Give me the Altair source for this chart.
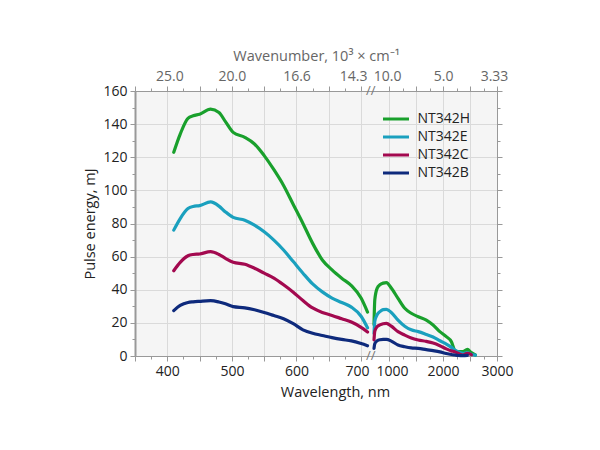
import altair as alt
import pandas as pd

series = ["NT342H", "NT342E", "NT342C", "NT342B"]
colors = ["#19a02c", "#1aa0be", "#a3094f", "#0e2a7c"]

# signal range (left segment)
wl_left = [410, 420, 432, 440, 450, 467, 480, 490, 502, 520, 535, 550, 565, 580,
           595, 610, 625, 640, 655, 670, 685, 700, 710]
h_left = [123, 134, 143.5, 145, 146, 149, 147, 141.5, 135, 132, 128, 121, 112.5, 103,
          91.5, 80, 68, 58, 52, 47, 42.5, 35, 26.5]
e_left = [76, 83, 89, 90.3, 90.8, 93, 90.5, 87, 83.7, 82, 79, 75, 70, 64,
          57, 50, 43.5, 38.7, 35, 32.3, 29.5, 24, 17]
c_left = [51.5, 56.5, 60.5, 61.3, 61.6, 63, 61.3, 59, 56.6, 55.4, 53, 50, 47, 43,
          38.5, 33.5, 29, 26.3, 24.5, 22.5, 20.5, 17.3, 14.5]
b_left = [27.4, 30.5, 32.3, 32.7, 33, 33.4, 32.6, 31.5, 29.8, 29.1, 27.9, 26.3, 24.4, 22.5,
          19.5, 15.8, 13.7, 12.4, 11.1, 10, 9.1, 7.5, 6.2]

# idler range (right segment)
wl_right = [720, 735, 780, 830, 890, 950, 1040, 1165, 1290, 1410, 1540, 1690, 1815,
            1940, 2060, 2155, 2215, 2280, 2370, 2450, 2525, 2600]
h_right = [19, 34, 41, 43, 44, 44.3, 41, 34.8, 28.8, 25.8, 23.7, 21.7, 18.7,
           14.7, 11.7, 8.6, 3.6, 2.6, 2.6, 4, 2, 0.6]
e_right = [13.7, 21, 25, 26.8, 28, 28.2, 26.3, 21.7, 18, 15.8, 14.7, 13, 11.5,
           9.2, 7.2, 5.2, 3.6, 2.6, 1.6, 2, 1, 0.5]
c_right = [9.7, 15, 17.8, 18.8, 19.5, 19.7, 18, 14.7, 12.6, 10.9, 9.7, 8.8, 7.8,
           6.2, 4.3, 3.1, 2.6, 1.6, 0.6, 1.6, 0.8]
b_right = [4.6, 7.5, 9.2, 9.8, 10, 10, 9, 6.6, 5.6, 4.9, 4.6, 3.8, 3.2,
           2.5, 1.5, 0.9, 0.6, 0.3, 0.2, 0.4]

# axis ticks / labels
x_ticks = list(range(350, 701, 25)) + list(range(1000, 3001, 250))
bottom_label_nm = [400, 500, 600, 700, 1000, 2000, 3000]
top_labels = ["25.0", "20.0", "16.6", "14.3", "10.0", "5.0", "3.33"]
y_ticks = list(range(0, 161, 10))
break_nm = [715, 715]
break_pe = [0, 160]

rows = []
for name, lv, rv in zip(series, [h_left, e_left, c_left, b_left],
                        [h_right, e_right, c_right, b_right]):
    for w, v in zip(wl_left, lv):
        rows.append({"series": name, "seg": "signal", "nm": w, "pe": v})
    for w, v in zip(wl_right, rv):
        rows.append({"series": name, "seg": "idler", "nm": w, "pe": v})
df = pd.DataFrame(rows)
brk = pd.DataFrame({"nm": break_nm, "pe": break_pe})

FONT = "Open Sans"
xscale = alt.Scale(domain=[350, 720, 3000], range=[0, 239, 362], nice=False, zero=False)
yscale = alt.Scale(domain=[0, 160], nice=False)

major_x = "((datum.value <= 700 && datum.value % 50 == 0) || datum.value % 500 == 0)"
lab_arr = "[" + ",".join(str(v) for v in bottom_label_nm) + "]"
top_arr = "[" + ",".join("'" + s + "'" for s in top_labels) + "]"

common = dict(labelFont=FONT, titleFont=FONT, titleFontWeight="normal",
              domainColor="#999", tickColor="#999", gridColor="#dadada", gridWidth=1)

bottom_axis = alt.Axis(
    orient="bottom", values=x_ticks, title="Wavelength, nm",
    labelExpr=f"indexof({lab_arr}, datum.value) >= 0 ? '' + datum.value : ''",
    labelOverlap=False, labelFlush=False,
    tickSize={"condition": {"test": major_x, "value": 5}, "value": 3},
    grid=True,
    gridOpacity={"condition": {"test": major_x, "value": 1}, "value": 0},
    labelOffset={"condition": [{"test": "datum.value == 700", "value": -4},
                               {"test": "datum.value == 1000", "value": 3}], "value": 0},
    labelColor="#222", titleColor="#222", labelFontSize=14, titleFontSize=14.5,
    labelPadding=3, titlePadding=7, titleX=200, titleAlign="center", **common,
)
top_axis = alt.Axis(
    orient="top", values=x_ticks, title="Wavenumber, 10³ × cm⁻¹",
    labelExpr=f"indexof({lab_arr}, datum.value) >= 0 ? {top_arr}[indexof({lab_arr}, datum.value)] : ''",
    labelOverlap=False, labelFlush=False, grid=False,
    tickSize={"condition": {"test": major_x, "value": 5}, "value": 3},
    labelOffset={"condition": [{"test": "datum.value == 700", "value": -8},
                               {"test": "datum.value == 400", "value": 2},
                               {"test": "datum.value == 1000", "value": -2},
                               {"test": "datum.value == 3000", "value": -3}], "value": 0},
    labelColor="#666", titleColor="#666", labelFontSize=14, titleFontSize=14.5,
    labelPadding=3, titlePadding=6, **common,
)
left_axis = alt.Axis(
    orient="left", values=y_ticks, title="Pulse energy, mJ",
    labelExpr="datum.value % 20 == 0 ? '' + datum.value : ''",
    tickSize={"condition": {"test": "datum.value % 20 == 0", "value": 5}, "value": 3},
    grid=True,
    gridOpacity={"condition": {"test": "datum.value % 20 == 0", "value": 1}, "value": 0},
    labelColor="#222", titleColor="#222", labelFontSize=14, titleFontSize=14.5,
    labelPadding=3, titlePadding=5, labelOverlap=False, domainWidth=2, **common,
)
right_axis = alt.Axis(
    orient="right", values=y_ticks, title=None, labels=False, grid=False,
    tickSize={"condition": {"test": "datum.value % 20 == 0", "value": 5}, "value": 3},
    **common,
)

lines = alt.Chart(df).mark_line(strokeWidth=3.2, interpolate="monotone", strokeCap="round").encode(
    x=alt.X("nm:Q", scale=xscale, axis=bottom_axis),
    y=alt.Y("pe:Q", scale=yscale, axis=left_axis),
    color=alt.Color("series:N", scale=alt.Scale(domain=series, range=colors),
                    sort=series,
                    legend=alt.Legend(orient="none", legendX=253, legendY=20, title=None,
                                      symbolType="M-2,0L2,0", symbolSize=169,
                                      symbolStrokeWidth=3, labelOffset=13.5,
                                      labelFontSize=14, labelColor="#222", labelFont=FONT,
                                      rowPadding=3, padding=0)),
    detail="seg:N",
)

breaks = alt.Chart(brk).mark_text(text="//", fontSize=13, color="#777", font=FONT).encode(
    x=alt.X("nm:Q", scale=xscale, axis=top_axis),
    y=alt.Y("pe:Q", scale=yscale, axis=right_axis),
)

chart = alt.layer(lines, breaks).resolve_axis(x="independent", y="independent").properties(
    width=362, height=265, autosize="none", background="white",
    padding={"left": 127, "top": 83, "right": 80, "bottom": 80},
).configure_view(fill="#f5f5f5", stroke="#999", strokeWidth=1)

chart.save("out.html", embed_options={"renderer": "svg", "actions": False})
